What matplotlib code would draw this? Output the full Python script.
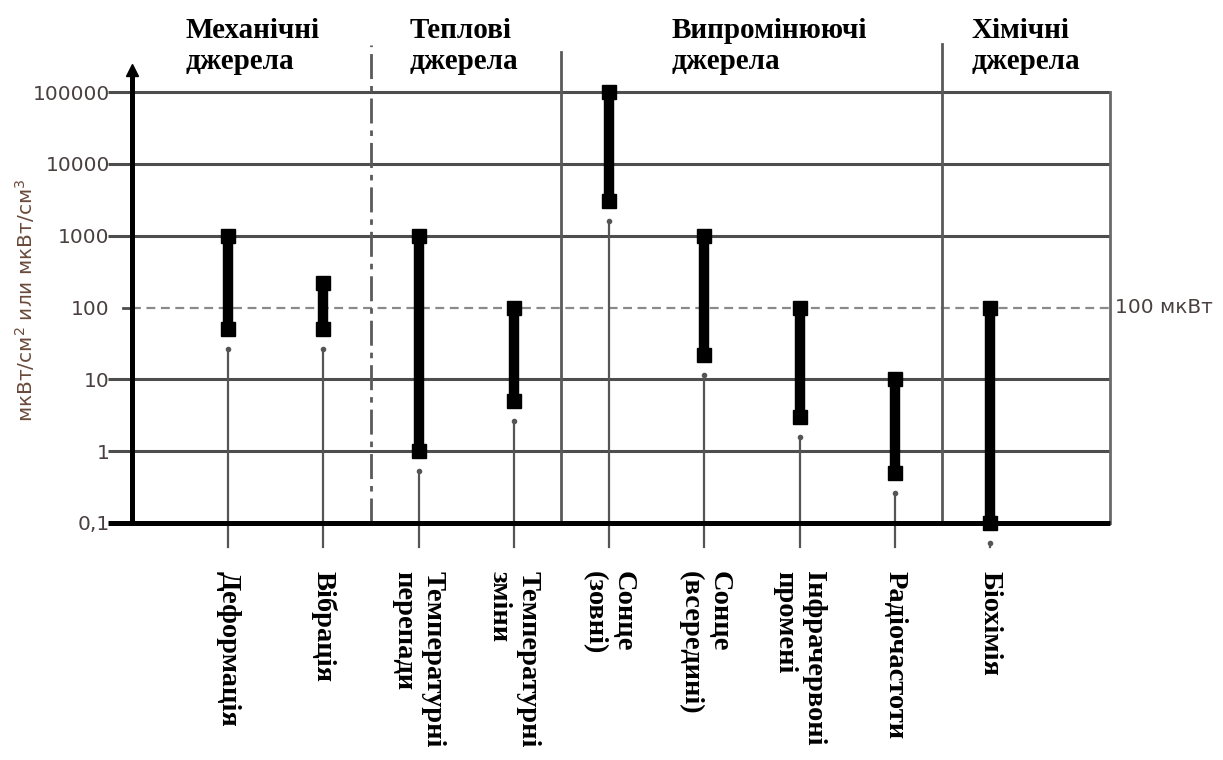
import numpy as np
import matplotlib
matplotlib.use("Agg")
import matplotlib.pyplot as plt

# Energy harvesting sources: power density ranges (мкВт/см² or мкВт/см³)
sources = ["Деформація", "Вібрація", "Температурні\nперепади", "Температурні\nзміни",
           "Сонце\n(зовні)", "Сонце\n(всередині)", "Інфрачервоні\nпромені",
           "Радіочастоти", "Біохімія"]
low = [50, 50, 1, 5, 3000, 22, 3, 0.5, 0.1]
high = [1000, 220, 1000, 100, 100000, 1000, 100, 10, 100]

groups = ["Механічні\nджерела", "Теплові\nджерела", "Випромінюючі\nджерела", "Хімічні\nджерела"]
group_bounds = [1.5, 3.5, 7.5]

decades = [0.1, 1, 10, 100, 1000, 10000, 100000]
decade_labels = ["0,1", "1", "10", "100", "1000", "10000", "100000"]
reference_level = 100
reference_label = "100 мкВт"
y_title = "мкВт/см$^2$ или мкВт/см$^3$"

W, H = 1223, 760
fig = plt.figure(figsize=(W / 100, H / 100), dpi=100)
ax_l, ax_r, ax_t, ax_b = 132, 1110, 92, 523
ax = fig.add_axes([ax_l / W, (H - ax_b) / H, (ax_r - ax_l) / W, (ax_b - ax_t) / H])

x = np.arange(len(sources))
px_per_slot = 95.25
ax.set_yscale("log")
ax.set_ylim(decades[0], decades[-1])
ax.set_xlim((ax_l - 228) / px_per_slot, (ax_r - 228) / px_per_slot)
for s in ax.spines.values():
    s.set_visible(False)
ax.set_xticks([])
ax.set_yticks(decades)
ax.set_yticklabels(decade_labels)
ax.yaxis.set_minor_locator(matplotlib.ticker.NullLocator())
ax.tick_params(axis="y", length=0, pad=16, labelsize=14.5, labelcolor="#4a4040")
for t in ax.get_yticklabels():
    t.set_family("DejaVu Sans")

axw = ax_r - ax_l
axh = ax_b - ax_t
yax = ax.get_yaxis_transform()   # x in axes, y in data
xax = ax.get_xaxis_transform()   # x in data, y in axes

grid_col = "#4d4d4d"
# horizontal decade lines with outward ticks
for d in decades[1:]:
    if d == reference_level:
        ax.plot([-9 / axw, 0], [d, d], color=grid_col, lw=2, transform=yax, clip_on=False)
        ax.plot([0, 1], [d, d], color="#8a8a8a", lw=1.6, ls=(0, (4, 2.5)),
                transform=yax, clip_on=False)
    else:
        ax.plot([-24 / axw, 1], [d, d], color=grid_col, lw=2.2, transform=yax,
                clip_on=False, solid_capstyle="butt")

# bottom axis line
ax.plot([-24 / axw, 1], [decades[0]] * 2, color="black", lw=3.6, transform=yax,
        clip_on=False, solid_capstyle="butt", zorder=4)
# vertical axis with arrow
ax.plot([0, 0], [0, 1.05], color="black", lw=3.6, transform=ax.transAxes,
        clip_on=False, zorder=4)
ax.plot([0], [1.05], marker="^", ms=8, color="black", transform=ax.transAxes,
        clip_on=False, zorder=4)
# right border
ax.plot([1, 1], [0, 1], color="#6a6a6a", lw=2, transform=ax.transAxes, clip_on=False)

# group separators
sep_tops = [1.109, 1.093, 1.112]
sep_styles = [(0, (9, 2.5, 2, 2.5)), "-", "-"]
for b, top, st in zip(group_bounds, sep_tops, sep_styles):
    ax.plot([b, b], [0, top], color="#5a5a5a", lw=2, ls=st, transform=xax, clip_on=False)

# leader lines from category labels up to each range
gap = 10 ** (-20 / 71.8)
foot = decades[0] * 10 ** (-24 / 71.8)
for xi, lo in zip(x, low):
    ax.plot([xi, xi], [foot, lo * gap], color="#555555", lw=1.6, clip_on=False, zorder=3)
    ax.plot([xi], [lo * gap], marker="o", ms=3, color="#555555", clip_on=False, zorder=3)

# ranges
ax.vlines(x, low, high, colors="black", lw=7.5, zorder=5)
ax.plot(x, low, ls="none", marker="s", ms=10.5, color="black", clip_on=False, zorder=6)
ax.plot(x, high, ls="none", marker="s", ms=10.5, color="black", clip_on=False, zorder=6)

# reference label
ax.text(1 + 5 / axw, reference_level, reference_label, transform=yax, ha="left",
        va="center", fontsize=14.5, color="#4a4040", family="DejaVu Sans")

# axis title
ax.text(-107 / axw, 0.517, y_title, transform=ax.transAxes, rotation=90,
        ha="center", va="center", fontsize=14.5, color="#6a4a3a", family="DejaVu Sans")

# category labels (vertical)
for xi, name in zip(x, sources):
    ax.text(xi, -48 / axh, name, transform=xax, rotation=-90, ha="center", va="top",
            multialignment="left", fontsize=20.5, fontweight="bold",
            family="Liberation Serif", linespacing=1.2, clip_on=False)

# group headers
header_x = [-0.45, 1.91, 4.66, 7.81]
for hx, g in zip(header_x, groups):
    ax.text(hx, 1 + 75 / axh, g, transform=xax, ha="left", va="top",
            fontsize=21, fontweight="bold", family="Liberation Serif",
            linespacing=1.2, clip_on=False)

fig.savefig("out.png", dpi=100)
